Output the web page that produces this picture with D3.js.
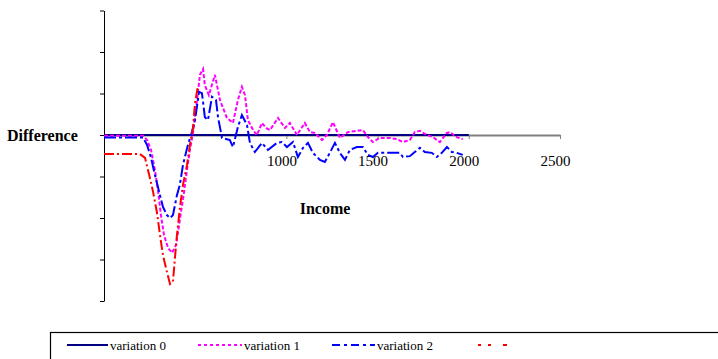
<!DOCTYPE html>
<html>
<head>
<meta charset="utf-8">
<script src="https://cdn.jsdelivr.net/npm/d3@7"></script>
<style>
  html, body { margin: 0; padding: 0; background: #fff; }
  svg { display: block; font-family: "Liberation Serif", "DejaVu Serif", serif; }
  svg text { font-family: "Liberation Serif", "DejaVu Serif", serif; }
</style>
</head>
<body>
<svg id="chart" width="718" height="359"></svg>
<script>
// values (income, difference)
const seriesNames = ['variation 0', 'variation 1', 'variation 2', '']

const variation0 = [[0, 0], [2000, 0]]

const variation1 = [
  [0, -0.02], [214, -0.02], [236, -0.12], [258, -0.36], [279, -0.84], [296, -1.33], [312, -1.93],
  [329, -2.41], [351, -2.72], [373, -2.84], [395, -2.65], [406, -2.34], [422, -1.86], [438, -1.40],
  [455, -0.84], [471, -0.36], [488, 0.05], [510, 0.84], [526, 1.45], [543, 1.59], [553, 1.20],
  [575, 0.96], [608, 1.45], [636, 0.84], [674, 0.41], [707, 0.29], [734, 0.84], [756, 1.16],
  [773, 0.96], [789, 0.36], [817, 0.12], [838, 0], [866, 0.29], [888, 0.17], [910, 0.12],
  [954, 0.41], [992, 0.17], [1019, 0.29], [1058, 0], [1101, 0.29], [1129, 0.07], [1156, 0.05],
  [1195, -0.12], [1222, 0], [1255, 0.31], [1293, -0.07], [1337, 0.07], [1386, 0.10], [1419, 0.12],
  [1447, -0.05], [1474, -0.17], [1512, -0.07], [1567, -0.07], [1606, -0.10], [1639, -0.17],
  [1677, -0.12], [1704, 0.07], [1732, 0.10], [1770, 0], [1803, -0.05], [1841, -0.17], [1880, 0.05],
  [1896, 0.07], [1934, -0.05], [1967, -0.10]
]

const variation2 = [
  [0, -0.06], [214, -0.06], [236, -0.24], [258, -0.55], [279, -0.96], [307, -1.45], [323, -1.73],
  [345, -1.93], [362, -2.00], [378, -1.93], [400, -1.45], [416, -1.20], [433, -0.72], [460, -0.24],
  [482, 0.07], [499, 0.36], [521, 1.04], [537, 1.01], [553, 0.43], [570, 0.36], [592, 0.92],
  [614, 0.84], [625, 0.43], [647, -0.07], [690, -0.12], [707, -0.29], [734, 0.19], [756, 0.48],
  [784, 0.24], [800, -0.19], [827, -0.41], [866, -0.19], [899, -0.36], [948, -0.19], [975, -0.17],
  [1003, -0.29], [1036, -0.17], [1063, -0.53], [1091, -0.31], [1118, -0.19], [1145, -0.43],
  [1184, -0.60], [1211, -0.65], [1238, -0.43], [1266, -0.19], [1293, -0.43], [1321, -0.60],
  [1348, -0.36], [1386, -0.29], [1419, -0.29], [1447, -0.48], [1474, -0.53], [1502, -0.43],
  [1567, -0.43], [1622, -0.43], [1639, -0.53], [1677, -0.51], [1704, -0.41], [1732, -0.31],
  [1759, -0.41], [1797, -0.43], [1825, -0.53], [1852, -0.43], [1880, -0.29], [1907, -0.41],
  [1934, -0.43], [1967, -0.48]
]

const variation3 = [
  [0, -0.46], [197, -0.46], [225, -0.55], [252, -1.04], [269, -1.37], [290, -1.86], [307, -2.41],
  [323, -2.89], [345, -3.30], [362, -3.59], [378, -3.54], [389, -2.96], [400, -2.41], [416, -1.76],
  [433, -1.20], [455, -0.72], [471, -0.24], [488, 0.17], [499, 0.77], [515, 1.18]
]

const xTicks = [1000, 1500, 2000, 2500]
const yTicks = [-4, -3, -2, -1, 0, 1, 2, 3]

const styles = [
  { color: '#000080', dash: null, legendDash: null },
  { color: '#FF00FF', dash: '4,2', legendDash: '3,3' },
  { color: '#0000FF', dash: '12,3,3,3', legendDash: '8,4,3,4' },
  { color: '#FF0000', dash: '10,3,2,3', legendDash: '3,7,3,12,4,12' }
]

const svg = d3.select('#chart')
const x = d3.scaleLinear().domain([0, 2500]).range([104, 560])
const y = d3.scaleLinear().domain([-4, 3]).range([301, 10.5])

// y axis (no labels)
svg.append('g')
  .attr('transform', `translate(${x(0)},0)`)
  .call(d3.axisLeft(y).tickValues(yTicks).tickFormat('').tickSize(4).tickSizeOuter(0))
  .call(g => g.selectAll('path, line').attr('stroke', '#000'))

// x axis through zero
const xAxis = svg.append('g')
  .attr('transform', `translate(0,${y(0)})`)
  .call(d3.axisBottom(x).tickValues(xTicks).tickFormat(d3.format('d')).tickSize(4).tickSizeOuter(0))
  .attr('font-size', 15)
  .attr('font-family', '"Liberation Serif", serif')
xAxis.select('.domain').attr('stroke', '#808080').attr('stroke-width', 2)
xAxis.selectAll('line').attr('stroke', '#808080')
xAxis.selectAll('text')
  .attr('fill', '#000')
  .attr('dx', -5).attr('y', 20)

// series
const line = d3.line().x(d => x(d[0])).y(d => y(d[1]))
const allSeries = [variation0, variation1, variation2, variation3]
svg.append('g').selectAll('path')
  .data(allSeries)
  .join('path')
  .attr('fill', 'none')
  .attr('stroke', (d, i) => styles[i].color)
  .attr('stroke-width', 2)
  .attr('stroke-dasharray', (d, i) => styles[i].dash)
  .attr('d', line)

// axis titles
svg.append('text').attr('x', 7).attr('y', 141)
  .attr('font-size', 16).attr('font-weight', 'bold').text('Difference')
svg.append('text').attr('x', 325).attr('y', 214).attr('text-anchor', 'middle')
  .attr('font-size', 16).attr('font-weight', 'bold').text('Income')

// legend
svg.append('rect').attr('x', 50.5).attr('y', 332.5).attr('width', 700).attr('height', 40)
  .attr('fill', 'none').attr('stroke', '#000').attr('stroke-width', 1.2)
const legendX = [67, 198, 332, 478]
const legendW = [41, 44, 43, 29]
const leg = svg.append('g').selectAll('g')
  .data(seriesNames)
  .join('g')
  .attr('transform', (d, i) => `translate(${legendX[i]},345)`)
leg.append('line')
  .attr('x1', 0).attr('x2', (d, i) => legendW[i])
  .attr('stroke', (d, i) => styles[i].color)
  .attr('stroke-width', 2)
  .attr('stroke-dasharray', (d, i) => styles[i].legendDash)
leg.append('text')
  .attr('x', (d, i) => legendW[i] + 2).attr('y', 4.5)
  .attr('font-size', 13).text(d => d)
</script>
</body>
</html>
